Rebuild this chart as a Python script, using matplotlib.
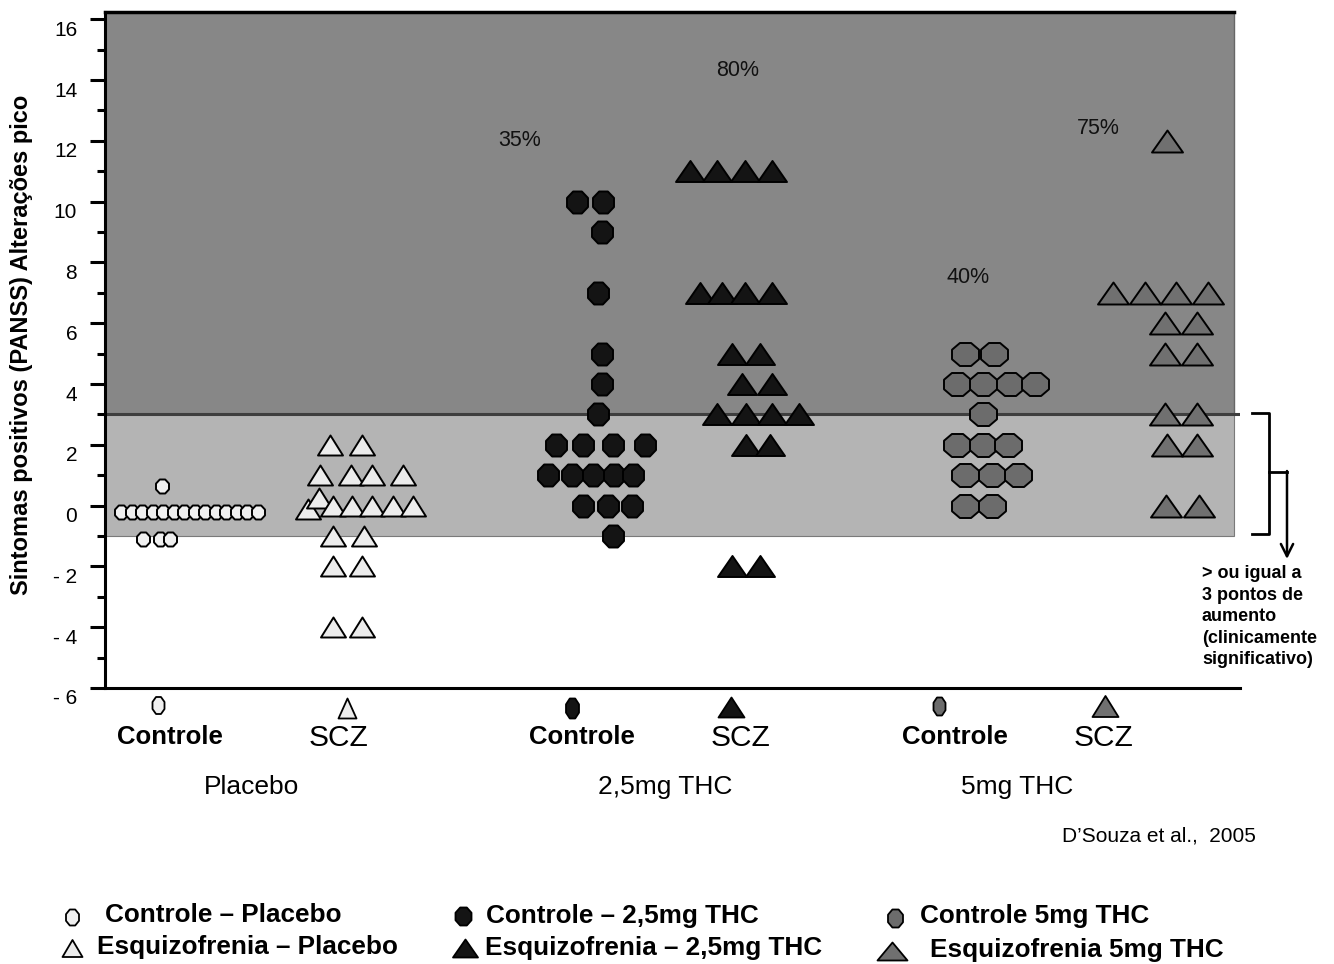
import matplotlib
matplotlib.use('Agg')
import matplotlib.pyplot as plt
import matplotlib.transforms as mtransforms
import numpy as np
from matplotlib.path import Path

plt.rcParams['font.family'] = ['Liberation Sans', 'DejaVu Sans']

DPI = 100
W, H = 1334, 964

# PANSS positive change; x = position along the axis (1 unit = 100 px of the original)
ctrl_placebo_x = [0.16, 0.27, 0.37, 0.48, 0.58, 0.69, 0.79, 0.90, 1.00, 1.11, 1.21, 1.32, 1.42, 1.53,
                  0.57, 0.38, 0.55, 0.65]
ctrl_placebo_y = [-0.2, -0.2, -0.2, -0.2, -0.2, -0.2, -0.2, -0.2, -0.2, -0.2, -0.2, -0.2, -0.2, -0.2,
                  0.65, -1.1, -1.1, -1.1]

scz_placebo_x = [2.25, 2.57, 2.15, 2.46, 2.67, 2.98, 2.03, 2.14, 2.28, 2.47, 2.67, 2.88, 3.08,
                 2.28, 2.59, 2.28, 2.57, 2.28, 2.57]
scz_placebo_y = [2, 2, 1, 1, 1, 1, -0.1, 0.25, 0, 0, 0, 0, 0,
                 -1, -1, -2, -2, -4, -4]

ctrl_thc25_x = [4.72, 4.98, 4.97, 4.93, 4.97, 4.97, 4.93, 4.51, 4.78, 5.08, 5.40,
                4.43, 4.67, 4.88, 5.09, 5.28, 4.78, 5.03, 5.27, 5.08]
ctrl_thc25_y = [10, 10, 9, 7, 5, 4, 3, 2, 2, 2, 2,
                1, 1, 1, 1, 1, 0, 0, 0, -1]

scz_thc25_x = [5.85, 6.12, 6.40, 6.67, 5.95, 6.17, 6.40, 6.67, 6.27, 6.55, 6.37, 6.67,
               6.12, 6.41, 6.67, 6.94, 6.41, 6.65, 6.27, 6.55]
scz_thc25_y = [11, 11, 11, 11, 7, 7, 7, 7, 5, 5, 4, 4,
               3, 3, 3, 3, 2, 2, -2, -2]

ctrl_thc5_x = [8.60, 8.89, 8.52, 8.78, 9.05, 9.30, 8.78, 8.52, 8.78, 9.03,
               8.60, 8.87, 9.13, 8.60, 8.87]
ctrl_thc5_y = [5, 5, 4, 4, 4, 4, 3, 2, 2, 2, 1, 1, 1, 0, 0]

scz_thc5_x = [10.62, 10.08, 10.40, 10.71, 11.03, 10.60, 10.92, 10.60, 10.92,
              10.60, 10.92, 10.62, 10.92, 10.61, 10.94]
scz_thc5_y = [12, 7, 7, 7, 7, 6, 6, 5, 5, 3, 3, 2, 2, 0, 0]

pct_labels = ['35%', '80%', '40%', '75%']
pct_x = [4.15, 6.33, 8.63, 9.93]
pct_y = [12.0, 14.3, 7.5, 12.4]

y_ticks = [-6, -4, -2, 0, 2, 4, 6, 8, 10, 12, 14, 16]
y_tick_labels = ['- 6', '- 4', '- 2', '0', '2', '4', '6', '8', '10', '12', '14', '16']

sub_labels = ['Controle', 'SCZ', 'Controle', 'SCZ', 'Controle', 'SCZ']
group_labels = ['Placebo', '2,5mg THC', '5mg THC']

legend_labels = ['Controle \u2013 Placebo', 'Esquizofrenia \u2013 Placebo',
                 'Controle \u2013 2,5mg THC', 'Esquizofrenia \u2013 2,5mg THC',
                 'Controle 5mg THC', 'Esquizofrenia 5mg THC']

WHITE = '#f0f0f0'
BLACK = '#141414'
GREY = '#6c6c6c'
GREY_TRI = '#707070'
DARK_BG = '#878787'
LIGHT_BG = '#b4b4b4'


def px_marker(verts):
    verts = np.asarray(verts, dtype=float)
    rescale = np.abs(verts).max()
    ms = 2 * rescale * 72 / DPI
    return Path(np.vstack([verts, verts[:1]]), closed=True), ms


def octagon(w, h):
    a = np.deg2rad(22.5 + 45 * np.arange(8))
    k = 1 / np.cos(np.deg2rad(22.5))
    return px_marker(np.column_stack([w / 2 * k * np.cos(a), h / 2 * k * np.sin(a)]))


def triangle(w, h):
    return px_marker([(-w / 2, -h / 2), (w / 2, -h / 2), (0, h / 2)])


fig = plt.figure(figsize=(W / DPI, H / DPI), dpi=DPI)
ax = fig.add_axes([105 / W, 1 - 688 / H, 1135 / W, 676 / H])

band_lo, band_hi = -1, 3
y_top = 16.24
x_frac = (1234 - 105) / 1135
ax.axhspan(band_hi, y_top, xmax=x_frac, facecolor=DARK_BG, edgecolor='#666666', lw=1, zorder=0)
ax.axhspan(band_lo, band_hi, xmax=x_frac, facecolor=LIGHT_BG, edgecolor='#7a7a7a', lw=0.8, zorder=0)
ax.axhline(band_hi, xmax=(1238 - 105) / 1135, color='#3e3e3e', lw=2.2, zorder=1)
ax.plot([0, 11.29], [y_top, y_top], color='black', lw=2.5, clip_on=False, zorder=1)

groups = [
    (ctrl_placebo_x, ctrl_placebo_y, octagon(13, 14), WHITE),
    (scz_placebo_x, scz_placebo_y, triangle(25, 20), '#ececec'),
    (ctrl_thc25_x, ctrl_thc25_y, octagon(21, 22), BLACK),
    (scz_thc25_x, scz_thc25_y, triangle(29, 21), BLACK),
    (ctrl_thc5_x, ctrl_thc5_y, octagon(27, 23), GREY),
    (scz_thc5_x, scz_thc5_y, triangle(31, 22), GREY_TRI),
]
for xs, ys, (mk, ms), fc in groups:
    ax.plot(xs, ys, ls='none', marker=mk, ms=ms, mfc=fc, mec='black', mew=1.4, zorder=3)

for lab, x, y in zip(pct_labels, pct_x, pct_y):
    ax.text(x, y, lab, ha='center', va='center', fontsize=15.5, color='#111111', zorder=4)

ax.spines['top'].set_visible(False)
ax.spines['right'].set_visible(False)
ax.spines['left'].set_linewidth(2.2)
ax.spines['bottom'].set_linewidth(2.2)
ax.set_xticks([])
ax.set_yticks(y_ticks)
ax.set_yticklabels(y_tick_labels, fontsize=15)
ax.set_yticks(np.arange(-5, 16, 2), minor=True)
ax.tick_params(axis='y', which='major', direction='out', length=11, width=2.2, pad=9)
ax.tick_params(axis='y', which='minor', direction='out', length=6, width=2.2)
ax.set_xlim(0, 11.35)
ax.set_ylim(-6, y_top)

# labels in the original sit a little below their ticks
shift = mtransforms.ScaledTranslation(0, -0.09, fig.dpi_scale_trans)
for lbl in ax.get_yticklabels():
    lbl.set_transform(lbl.get_transform() + shift)

fig.text(22 / W, 1 - 345 / H, 'Sintomas positivos (PANSS) Altera\u00e7\u00f5es pico',
         rotation=90, ha='center', va='center', fontsize=17, fontweight='bold')

# overlay in pixel coordinates for the decorations outside the plot area
lax = fig.add_axes([0, 0, 1, 1])
lax.set_xlim(0, W)
lax.set_ylim(H, 0)
lax.set_axis_off()

under_marks = [
    (158, 705, octagon(12, 17), WHITE),
    (347, 708, triangle(18, 20), '#ececec'),
    (572, 708, octagon(13, 20), BLACK),
    (731, 707, triangle(26, 20), BLACK),
    (939, 706, octagon(12, 18), GREY),
    (1105, 706, triangle(26, 21), GREY_TRI),
]
for x, y, (mk, ms), fc in under_marks:
    lax.plot(x, y, marker=mk, ms=ms, mfc=fc, mec='black', mew=1.3)

sub_x = [170, 338, 582, 740, 955, 1103]
for lab, x in zip(sub_labels, sub_x):
    if lab == 'SCZ':
        lax.text(x, 738, lab, ha='center', va='center', fontsize=21.5)
    else:
        lax.text(x, 737, lab, ha='center', va='center', fontsize=18.5, fontweight='bold')

group_x = [251, 665, 1017]
for lab, x in zip(group_labels, group_x):
    lax.text(x, 787, lab, ha='center', va='center', fontsize=19)

lax.text(1256, 836, 'D\u2019Souza et al.,  2005', ha='right', va='center', fontsize=15)

# brace + arrow for the clinical threshold
lax.plot([1252, 1269, 1269, 1252], [413, 413, 534, 534], color='black', lw=2)
lax.plot([1269, 1287], [472, 472], color='black', lw=2)
lax.annotate('', xy=(1287, 559), xytext=(1287, 471),
             arrowprops=dict(arrowstyle='->', lw=1.8, color='black', mutation_scale=22,
                             shrinkA=0, shrinkB=0))
lax.text(1202, 565, '> ou igual a\n3 pontos de\naumento\n(clinicamente\nsignificativo)',
         ha='left', va='top', fontsize=13, fontweight='bold', linespacing=1.35)

# legend
leg_marks = [
    (72, 917, octagon(13, 16), WHITE),
    (72, 948, triangle(20, 17), '#ececec'),
    (463, 916, octagon(16, 18), BLACK),
    (465, 948, triangle(25, 18), BLACK),
    (895, 918, octagon(15, 18), GREY),
    (892, 951, triangle(30, 18), GREY_TRI),
]
for x, y, (mk, ms), fc in leg_marks:
    lax.plot(x, y, marker=mk, ms=ms, mfc=fc, mec='black', mew=1.3)

leg_pos = [(105, 915), (97, 947), (486, 916), (485, 948), (920, 916), (930, 950)]
for lab, (x, y) in zip(legend_labels, leg_pos):
    lax.text(x, y, lab, ha='left', va='center', fontsize=18.8, fontweight='bold')

fig.savefig('out.png', dpi=DPI)
